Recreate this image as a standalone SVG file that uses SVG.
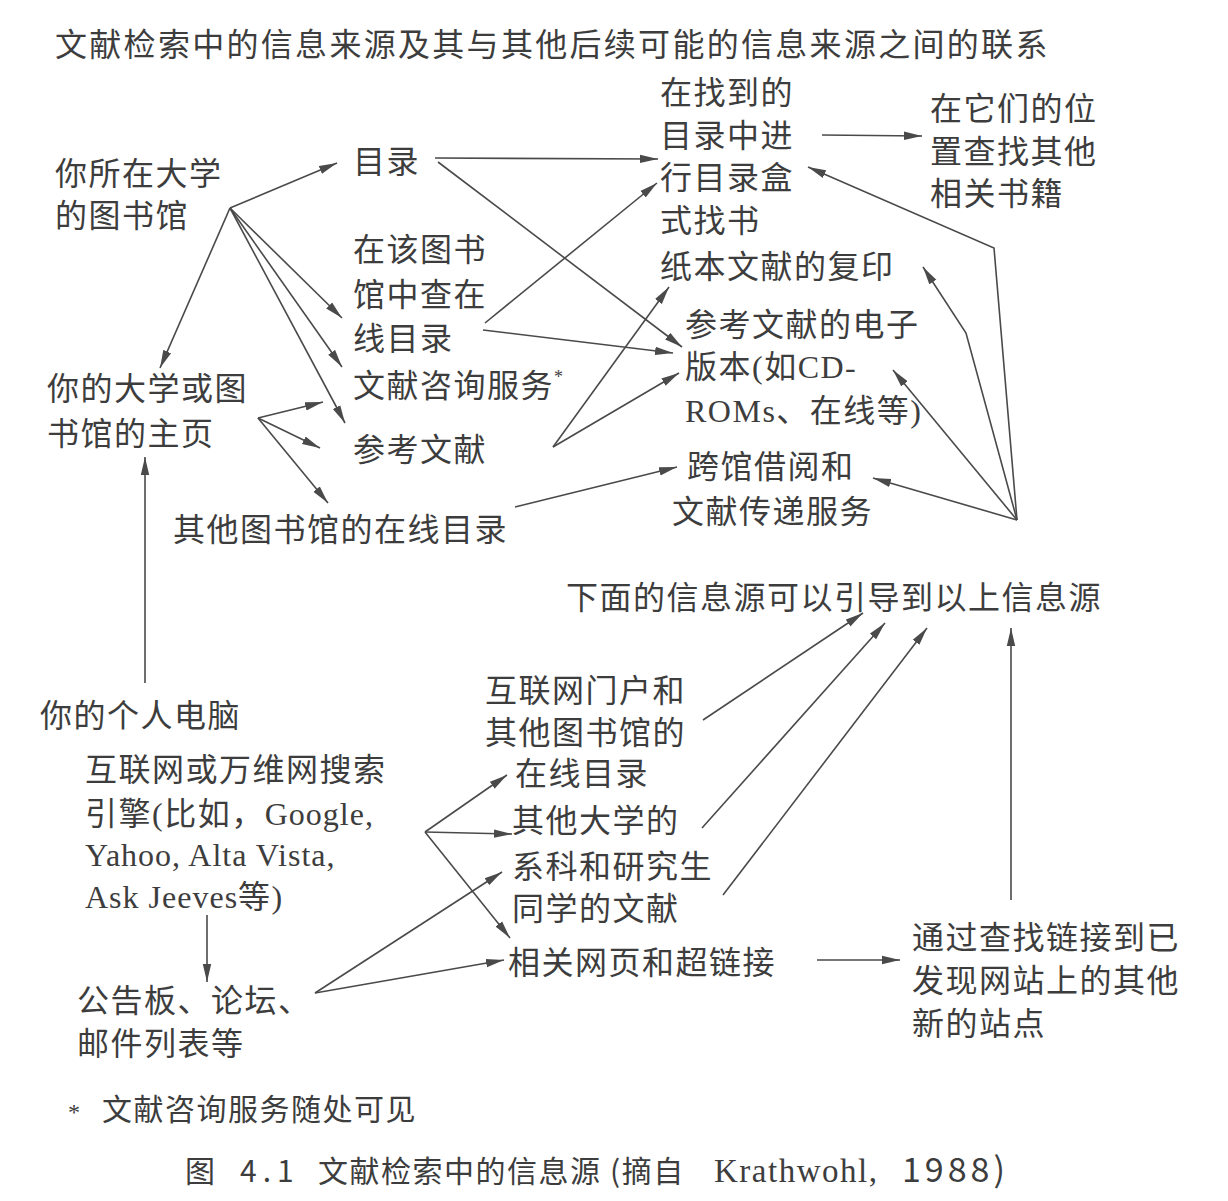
<svg xmlns="http://www.w3.org/2000/svg" width="1228" height="1201" viewBox="0 0 1228 1201">
  <style>
    .t { font-family: "Liberation Serif", "Noto Sans CJK SC", serif; font-size: 32px; letter-spacing: 1.5px; fill: #3d3d3d; }
    .lat { letter-spacing: 1px; }
    .title { letter-spacing: 2.3px; }
    .sup { font-size: 18px; letter-spacing: 0; }
    .cap { font-family: "Noto Sans CJK SC", "Liberation Sans", sans-serif; font-size: 30px; letter-spacing: 1.5px; fill: #3d3d3d; }
    .capser { font-family: "Liberation Serif", "Noto Sans CJK SC", serif; font-size: 33px; letter-spacing: 1.5px; }
    .c line, .c polyline { stroke: #4a4a4a; stroke-width: 1.6; fill: none; marker-end: url(#ah); }
  </style>
  <defs>
    <marker id="ah" markerUnits="userSpaceOnUse" markerWidth="20" markerHeight="10" refX="18" refY="5" orient="auto">
      <path d="M0,0.8 L18,5 L0,9.2 z" fill="#4a4a4a"/>
    </marker>
  </defs>
  <rect width="1228" height="1201" fill="#ffffff"/>

  <!-- heading -->
  <text class="t title" x="55" y="56">文献检索中的信息来源及其与其他后续可能的信息来源之间的联系</text>

  <!-- nodes -->
  <g id="n-library">
    <text class="t" x="55" y="185">你所在大学</text>
    <text class="t" x="55" y="227">的图书馆</text>
  </g>
  <g id="n-catalog">
    <text class="t" x="353" y="173">目录</text>
  </g>
  <g id="n-cardsearch">
    <text class="t" x="660" y="104">在找到的</text>
    <text class="t" x="660" y="147">目录中进</text>
    <text class="t" x="660" y="189">行目录盒</text>
    <text class="t" x="660" y="232">式找书</text>
  </g>
  <g id="n-shelf">
    <text class="t" x="930" y="120">在它们的位</text>
    <text class="t" x="930" y="163">置查找其他</text>
    <text class="t" x="930" y="205">相关书籍</text>
  </g>
  <g id="n-online-catalog">
    <text class="t" x="353" y="261">在该图书</text>
    <text class="t" x="353" y="306">馆中查在</text>
    <text class="t" x="353" y="350">线目录</text>
  </g>
  <g id="n-reference-service">
    <text class="t" x="353" y="397">文献咨询服务<tspan class="sup" dy="-14">*</tspan></text>
  </g>
  <g id="n-references">
    <text class="t" x="353" y="461">参考文献</text>
  </g>
  <g id="n-homepage">
    <text class="t" x="47" y="400">你的大学或图</text>
    <text class="t" x="47" y="445">书馆的主页</text>
  </g>
  <g id="n-other-catalogs">
    <text class="t" x="173" y="541">其他图书馆的在线目录</text>
  </g>
  <g id="n-paper-copies">
    <text class="t" x="660" y="278">纸本文献的复印</text>
  </g>
  <g id="n-electronic">
    <text class="t" x="685" y="336">参考文献的电子</text>
    <text class="t" x="685" y="378">版本(如CD-</text>
    <text class="t" x="685" y="422">ROMs、在线等)</text>
  </g>
  <g id="n-interlibrary">
    <text class="t" x="687" y="478">跨馆借阅和</text>
    <text class="t" x="672" y="523">文献传递服务</text>
  </g>
  <g id="n-lead">
    <text class="t" x="566" y="609">下面的信息源可以引导到以上信息源</text>
  </g>
  <g id="n-portals">
    <text class="t" x="485" y="702">互联网门户和</text>
    <text class="t" x="485" y="744">其他图书馆的</text>
    <text class="t" x="515" y="785">在线目录</text>
  </g>
  <g id="n-peers">
    <text class="t" x="512" y="832">其他大学的</text>
    <text class="t" x="512" y="878">系科和研究生</text>
    <text class="t" x="512" y="920">同学的文献</text>
  </g>
  <g id="n-links">
    <text class="t" x="508" y="974">相关网页和超链接</text>
  </g>
  <g id="n-pc">
    <text class="t" x="40" y="727">你的个人电脑</text>
  </g>
  <g id="n-search">
    <text class="t" x="85" y="781">互联网或万维网搜索</text>
    <text class="t" x="85" y="825">引擎(比如，<tspan class="lat">Google,</tspan></text>
    <text class="t lat" x="85" y="866">Yahoo, Alta Vista,</text>
    <text class="t" x="85" y="908"><tspan class="lat">Ask Jeeves</tspan>等)</text>
  </g>
  <g id="n-forums">
    <text class="t" x="77" y="1012">公告板、论坛、</text>
    <text class="t" x="77" y="1055">邮件列表等</text>
  </g>
  <g id="n-new-sites">
    <text class="t" x="912" y="949">通过查找链接到已</text>
    <text class="t" x="912" y="992">发现网站上的其他</text>
    <text class="t" x="912" y="1035">新的站点</text>
  </g>

  <!-- footnote and caption -->
  <g id="footnote">
    <text class="t" x="68" y="1120" style="font-size:24px">*</text>
    <text class="t" x="102" y="1120" style="font-size:30px">文献咨询服务随处可见</text>
  </g>
  <g id="caption">
    <text class="cap" y="1182"><tspan x="185">图</tspan><tspan x="240" style="letter-spacing:6px">4.1</tspan><tspan x="318">文献检索中的信息源</tspan><tspan x="610">(摘自</tspan><tspan x="714" class="capser">Krathwohl,</tspan><tspan x="902" style="font-size:34px;letter-spacing:4px">1988)</tspan></text>
  </g>

  <!-- connectors -->
  <g id="connectors" class="c">
    <!-- from the university library -->
    <line x1="230" y1="208" x2="337" y2="163"/>
    <line x1="230" y1="208" x2="160" y2="368"/>
    <line x1="230" y1="208" x2="342" y2="318"/>
    <line x1="230" y1="208" x2="342" y2="367"/>
    <line x1="230" y1="208" x2="345" y2="423"/>
    <!-- from the homepage -->
    <line x1="258" y1="418" x2="323" y2="402"/>
    <line x1="258" y1="418" x2="320" y2="448"/>
    <line x1="258" y1="418" x2="328" y2="503"/>
    <!-- personal computer up to homepage -->
    <line x1="145" y1="683" x2="145" y2="457"/>
    <!-- catalog -->
    <line x1="435" y1="158" x2="658" y2="159"/>
    <line x1="438" y1="162" x2="682" y2="347"/>
    <!-- online catalog -->
    <line x1="485" y1="323" x2="657" y2="183"/>
    <line x1="483" y1="330" x2="673" y2="353"/>
    <!-- references -->
    <line x1="553" y1="447" x2="669" y2="287"/>
    <line x1="553" y1="447" x2="679" y2="373"/>
    <!-- other catalogs to interlibrary loan -->
    <line x1="515" y1="507" x2="677" y2="467"/>
    <!-- card catalog to shelves -->
    <line x1="822" y1="135" x2="922" y2="136"/>
    <!-- fan from the right -->
    <polyline points="1017,520 994,248 808,167"/>
    <polyline points="1017,520 966,333 923,267"/>
    <line x1="1017" y1="520" x2="893" y2="370"/>
    <line x1="1017" y1="520" x2="873" y2="478"/>
    <!-- lower sources up to the lead line -->
    <line x1="703" y1="720" x2="863" y2="613"/>
    <line x1="702" y1="828" x2="885" y2="623"/>
    <line x1="723" y1="895" x2="927" y2="628"/>
    <line x1="1011" y1="900" x2="1011" y2="628"/>
    <line x1="817" y1="960" x2="900" y2="960"/>
    <!-- search engines -->
    <line x1="425" y1="832" x2="507" y2="775"/>
    <line x1="425" y1="832" x2="512" y2="834"/>
    <line x1="425" y1="832" x2="510" y2="938"/>
    <line x1="207" y1="915" x2="207" y2="982"/>
    <!-- forums -->
    <line x1="315" y1="993" x2="502" y2="872"/>
    <line x1="315" y1="993" x2="504" y2="960"/>
  </g>
</svg>
